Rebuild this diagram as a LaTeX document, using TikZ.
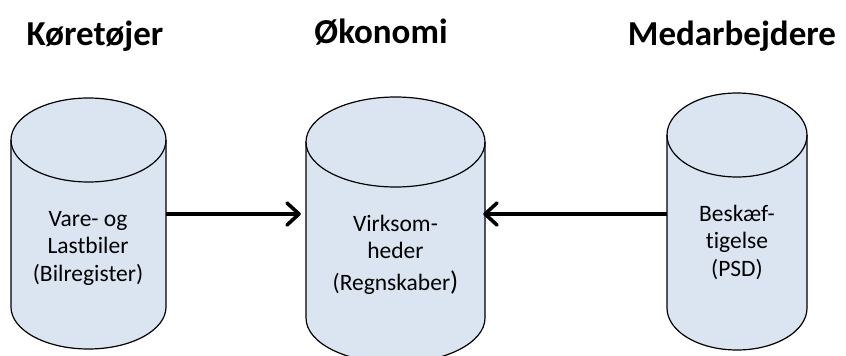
\documentclass[tikz,border=0pt]{standalone}
\usepackage{fontspec}
\setmainfont{Carlito}[Ligatures=NoCommon]
\usetikzlibrary{arrows.meta}
\definecolor{cylblue}{HTML}{DBE5F1}
\tikzset{
  cylfill/.style={fill=cylblue},
  cylline/.style={draw=black,line width=1.2pt,line join=round},
  title/.style={font=\bfseries\fontsize{35}{40}\selectfont,anchor=base,inner sep=0pt},
  cyltext/.style={font=\fontsize{23.5}{27.5}\selectfont,align=center,anchor=base,inner sep=0pt},
  bodybox/.style={rectangle,inner sep=0pt,minimum height=10pt},
  flow/.style={line width=3.6pt,-{Straight Barb[length=12pt,width=22pt,round]}}
}
\newcommand{\mycyl}[5]{%
  \path[cylfill] (#1-#2,#3) arc[start angle=180,end angle=0,x radius=#2pt,y radius=#5pt]
     -- (#1+#2,#4) arc[start angle=0,end angle=-180,x radius=#2pt,y radius=#5pt] -- cycle;
  \draw[cylline] (#1-#2,#3) arc[start angle=180,end angle=0,x radius=#2pt,y radius=#5pt]
     -- (#1+#2,#4) arc[start angle=0,end angle=-180,x radius=#2pt,y radius=#5pt] -- cycle;
  \draw[cylline] (#1-#2,#3) arc[start angle=180,end angle=360,x radius=#2pt,y radius=#5pt];
}
\begin{document}
\begin{tikzpicture}[x=1pt,y=-1pt]
\useasboundingbox[fill=white] (0,0) rectangle (846,356);
\clip (0,0) rectangle (846,356);
% titles
\node[title] (t1) at (95,45) {Køretøjer};
\node[title] (t2) at (381,43) {Økonomi};
\node[title] (t3) at (732,45) {Medarbejdere};
% cylinders
\mycyl{88.5}{77.5}{140}{307}{42}
\mycyl{395.5}{89.5}{142}{318}{45}
\mycyl{737}{70}{135}{308}{42}
% body boxes (for connectors)
\node[bodybox,minimum width=155pt] (kor) at (88.5,214) {};
\node[bodybox,minimum width=179pt] (oko) at (395.5,214) {};
\node[bodybox,minimum width=140pt] (med) at (737,214) {};
% texts (anchor base = baseline of last line)
\node[cyltext] (kortxt) at (88,281) {Vare- og\\Lastbiler\\(Bilregister)};
\node[cyltext] (okotxt) at (395.5,290) {Virksom-\\heder\\[4pt](Regnskaber{\fontsize{27}{27}\selectfont)}};
\node[cyltext] (medtxt) at (737,276) {Beskæf-\\tigelse\\(PSD)};
% connectors
\draw[flow,shorten >=5pt] (kor.east) -- (oko.west);
\draw[flow,shorten >=-2pt] (med.west) -- (oko.east);
\end{tikzpicture}
\end{document}
